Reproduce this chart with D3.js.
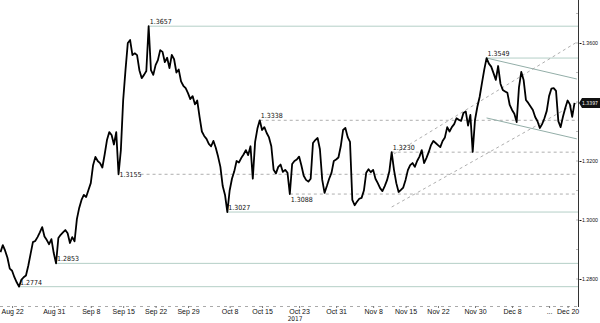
<!DOCTYPE html>
<html>
<head>
<meta charset="utf-8">
<script src="https://cdnjs.cloudflare.com/ajax/libs/d3/7.8.5/d3.min.js"></script>
<style>
    html, body { margin: 0; padding: 0; background: #fff; }
    svg { display: block; font-family: 'DejaVu Sans Condensed', 'Liberation Sans Narrow', 'Liberation Sans', sans-serif; }
</style>
</head>
<body>
<div id="chart"></div>
<script>
'use strict';

// half-day closes, first one at 19 Aug 2017 12:00 UTC
var seriesStart = Date.UTC(2017, 7, 19, 12);
var stepHours = 12;
var closes = [
    1.2891, 1.2915, 1.2896, 1.2872, 1.2835, 1.2828, 1.2806, 1.2789, 1.2774, 1.2797,
    1.2806, 1.2812, 1.2845, 1.2885, 1.2925, 1.2929, 1.2942, 1.2958, 1.2976, 1.2944,
    1.2932, 1.2918, 1.2935, 1.2888, 1.2853, 1.2939, 1.2950, 1.2958, 1.2966, 1.2955,
    1.2922, 1.2942, 1.2928, 1.3003, 1.3041, 1.3068, 1.3085, 1.3078, 1.3102, 1.3125,
    1.3186, 1.3214, 1.3200, 1.3193, 1.3178, 1.3222, 1.3271, 1.3298, 1.3288, 1.3256,
    1.3298, 1.3155, 1.3237, 1.3407, 1.3508, 1.3600, 1.3610, 1.3559, 1.3565, 1.3559,
    1.3508, 1.3481, 1.3492, 1.3505, 1.3657, 1.3508, 1.3492, 1.3525, 1.3542, 1.3576,
    1.3570, 1.3535, 1.3550, 1.3515, 1.3560, 1.3545, 1.3500, 1.3510, 1.3470, 1.3455,
    1.3447, 1.3430, 1.3410, 1.3420, 1.3392, 1.3405, 1.3350, 1.3300, 1.3285, 1.3275,
    1.3258, 1.3250, 1.3268, 1.3245, 1.3215, 1.3180, 1.3115, 1.3085, 1.3027, 1.3100,
    1.3140, 1.3165, 1.3200, 1.3195, 1.3210, 1.3222, 1.3237, 1.3220, 1.3250, 1.3140,
    1.3265, 1.3310, 1.3338, 1.3305, 1.3315, 1.3295, 1.3280, 1.3250, 1.3170, 1.3158,
    1.3180, 1.3188, 1.3163, 1.3170, 1.3160, 1.3088, 1.3190, 1.3200, 1.3205, 1.3215,
    1.3185, 1.3150, 1.3136, 1.3130, 1.3140, 1.3261, 1.3271, 1.3278, 1.3240, 1.3136,
    1.3092, 1.3115, 1.3140, 1.3160, 1.3200, 1.3205, 1.3212, 1.3250, 1.3305, 1.3312,
    1.3281, 1.3265, 1.3068, 1.3050, 1.3062, 1.3072, 1.3075, 1.3100, 1.3160, 1.3172,
    1.3162, 1.3170, 1.3140, 1.3125, 1.3108, 1.3098, 1.3115, 1.3135, 1.3165, 1.3230,
    1.3170, 1.3125, 1.3095, 1.3102, 1.3110, 1.3136, 1.3169, 1.3186, 1.3193, 1.3180,
    1.3200, 1.3215, 1.3237, 1.3193, 1.3210, 1.3230, 1.3254, 1.3268, 1.3261, 1.3254,
    1.3247, 1.3268, 1.3280, 1.3315, 1.3300, 1.3315, 1.3325, 1.3345, 1.3340, 1.3336,
    1.3363, 1.3368, 1.3320, 1.3356, 1.3231, 1.3339, 1.3383, 1.3417, 1.3464, 1.3510,
    1.3549, 1.3530, 1.3520, 1.3498, 1.3475, 1.3522, 1.3462, 1.3441, 1.3436, 1.3431,
    1.3390, 1.3373, 1.3360, 1.3332, 1.3450, 1.3502, 1.3475, 1.3407, 1.3397, 1.3385,
    1.3373, 1.3349, 1.3335, 1.3312, 1.3325, 1.3345, 1.3370, 1.3420, 1.3445, 1.3447,
    1.3438, 1.3335, 1.3315, 1.3350, 1.3380, 1.3405, 1.3392, 1.3350, 1.3397
];

// highs / lows marked with solid lines, and the dashed pivots
// (the "from" arrays are indexes into closes)
var supportLevels = [1.3657, 1.3549, 1.3027, 1.2853, 1.2774];
var supportFrom = [64, 210, 98, 24, 8];
var pivotLevels = [1.3338, 1.3230, 1.3155, 1.3088];
var pivotFrom = [112, 169, 51, 125];

// falling channel (solid) and rising trend lines (dashed): [index, value] pairs
var channelLines = [
    [[210, 1.3549], [249, 1.3478]],
    [[210, 1.3346], [249, 1.3275]]
];
var trendLines = [
    [[170, 1.3224], [249, 1.3603]],
    [[169, 1.3044], [249, 1.3397]]
];

var lastPrice = 1.3397;
var yLabelTicks = [1.28, 1.30, 1.32, 1.36];
var yMinorTicks = [1.28, 1.29, 1.30, 1.31, 1.32, 1.33, 1.34, 1.35, 1.36, 1.37];
var xTickDates = ['2017-08-22', '2017-08-31', '2017-09-08', '2017-09-15', '2017-09-22', '2017-09-29',
    '2017-10-08', '2017-10-15', '2017-10-23', '2017-10-31', '2017-11-08', '2017-11-15',
    '2017-11-22', '2017-11-30', '2017-12-08', '2017-12-16', '2017-12-20'];
var xTickLabels = ['Aug 22', 'Aug 31', 'Sep 8', 'Sep 15', 'Sep 22', 'Sep 29', 'Oct 8', 'Oct 15',
    'Oct 23', 'Oct 31', 'Nov 8', 'Nov 15', 'Nov 22', 'Nov 30', 'Dec 8', '...', 'Dec 20'];
var yearLabel = '2017';

var width = 600,
    height = 323,
    plotRight = 578,
    plotBottom = 306;

var svg = d3.select('#chart')
    .append('svg')
    .attr('width', width)
    .attr('height', height);

function dateAt(i) {
    return new Date(seriesStart + i * stepHours * 3600e3);
}

var x = d3.scaleUtc()
    .domain([new Date(Date.UTC(2017, 7, 19, 9, 24)), new Date(Date.UTC(2017, 11, 22, 6))])
    .range([0, plotRight]);

// keep the same price-to-pixel mapping as the reference (1.32 at y=161, ~2950px per unit)
var y = d3.scaleLinear()
    .domain([1.27085, 1.37458])
    .range([plotBottom, 0]);

var levelColor = '#b4cfc7',
    channelColor = '#93aea8',
    dashColor = '#9a9a9a';

// solid level lines
supportLevels.forEach(function(v, k) {
    svg.append('line')
        .attr('x1', x(dateAt(supportFrom[k]))).attr('x2', plotRight)
        .attr('y1', y(v)).attr('y2', y(v))
        .attr('stroke', levelColor).attr('stroke-width', 1);
});

// dashed pivots
pivotLevels.forEach(function(v, k) {
    var startX = x(dateAt(pivotFrom[k]));
    if (v === 1.3155) { startX += 22; } // label sits inline on this one
    svg.append('line')
        .attr('x1', startX).attr('x2', plotRight)
        .attr('y1', y(v)).attr('y2', y(v))
        .attr('stroke', dashColor).attr('stroke-width', 0.8)
        .attr('stroke-dasharray', '3,3');
});

channelLines.forEach(function(seg) {
    svg.append('line')
        .attr('x1', x(dateAt(seg[0][0]))).attr('y1', y(seg[0][1]))
        .attr('x2', x(dateAt(seg[1][0]))).attr('y2', y(seg[1][1]))
        .attr('stroke', channelColor).attr('stroke-width', 1);
});

trendLines.forEach(function(seg) {
    svg.append('line')
        .attr('x1', x(dateAt(seg[0][0]))).attr('y1', y(seg[0][1]))
        .attr('x2', x(dateAt(seg[1][0]))).attr('y2', y(seg[1][1]))
        .attr('stroke', dashColor).attr('stroke-width', 0.8)
        .attr('stroke-dasharray', '3,3');
});

// price
var line = d3.line()
    .x(function(d, i) { return x(dateAt(i)); })
    .y(function(d) { return y(d); });

svg.append('path')
    .datum(closes)
    .attr('fill', 'none')
    .attr('stroke', '#000')
    .attr('stroke-width', 1.8)
    .attr('stroke-linejoin', 'round')
    .attr('d', line);

// level labels
function levelLabel(v, idx) {
    var dy = -2;
    if (v === 1.3155) { dy = 2.5; }
    if (v === 1.3088) { dy = 8; }
    svg.append('text')
        .attr('x', x(dateAt(idx)) + 1)
        .attr('y', y(v) + dy)
        .style('font-size', '7px')
        .attr('fill', '#111')
        .text(v.toFixed(4));
}
supportLevels.forEach(function(v, k) { levelLabel(v, supportFrom[k]); });
pivotLevels.forEach(function(v, k) { levelLabel(v, pivotFrom[k]); });

// right axis
svg.append('line')
    .attr('x1', plotRight + 0.5).attr('x2', plotRight + 0.5)
    .attr('y1', 0).attr('y2', plotBottom + 1)
    .attr('stroke', '#333').attr('stroke-width', 1);

yMinorTicks.forEach(function(v) {
    svg.append('line')
        .attr('x1', plotRight - 2).attr('x2', plotRight)
        .attr('y1', y(v)).attr('y2', y(v))
        .attr('stroke', '#bbb');
});

var yAxis = d3.axisRight(y)
    .tickValues(yLabelTicks)
    .tickSize(2)
    .tickPadding(0.5)
    .tickFormat(d3.format('.4f'));

var yAxisG = svg.append('g')
    .attr('transform', 'translate(' + (plotRight + 1.5) + ',0)')
    .call(yAxis);
yAxisG.select('.domain').remove();
yAxisG.selectAll('text')
    .style('font-size', '5.4px')
    .attr('fill', '#111')
    .attr('textLength', 16)
    .attr('lengthAdjust', 'spacingAndGlyphs');
yAxisG.selectAll('line').attr('stroke', '#111');

// last price tag
var tagY = y(lastPrice);
svg.append('path')
    .attr('d', 'M' + (plotRight + 1) + ',' + tagY + 'l3,-5h18v10h-18z')
    .attr('fill', '#111');
svg.append('text')
    .attr('x', plotRight + 4)
    .attr('y', tagY + 2.2)
    .style('font-size', '5.4px')
    .attr('fill', '#fff')
    .attr('textLength', 16)
    .attr('lengthAdjust', 'spacingAndGlyphs')
    .text(lastPrice.toFixed(4));

// bottom axis
var parseDay = d3.utcParse('%Y-%m-%d');
var xTicks = xTickDates.map(parseDay);

svg.append('line')
    .attr('x1', 0).attr('x2', plotRight)
    .attr('y1', plotBottom + 0.5).attr('y2', plotBottom + 0.5)
    .attr('stroke', '#aaa')
    .attr('stroke-dasharray', '3,4');

var xAxis = d3.axisBottom(x)
    .tickValues(xTicks)
    .tickSize(2)
    .tickPadding(1)
    .tickFormat(function(d, i) { return xTickLabels[i]; });

var xAxisG = svg.append('g')
    .attr('transform', 'translate(0,' + plotBottom + ')')
    .call(xAxis);
xAxisG.select('.domain').remove();
xAxisG.selectAll('text').style('font-size', '7px').attr('fill', '#111');
xAxisG.selectAll('line').attr('stroke', '#777');

svg.append('text')
    .attr('x', x(parseDay('2017-10-23')) - 4)
    .attr('y', plotBottom + 14.5)
    .attr('text-anchor', 'middle')
    .style('font-size', '6.5px')
    .attr('fill', '#111')
    .text(yearLabel);
</script>
</body>
</html>
